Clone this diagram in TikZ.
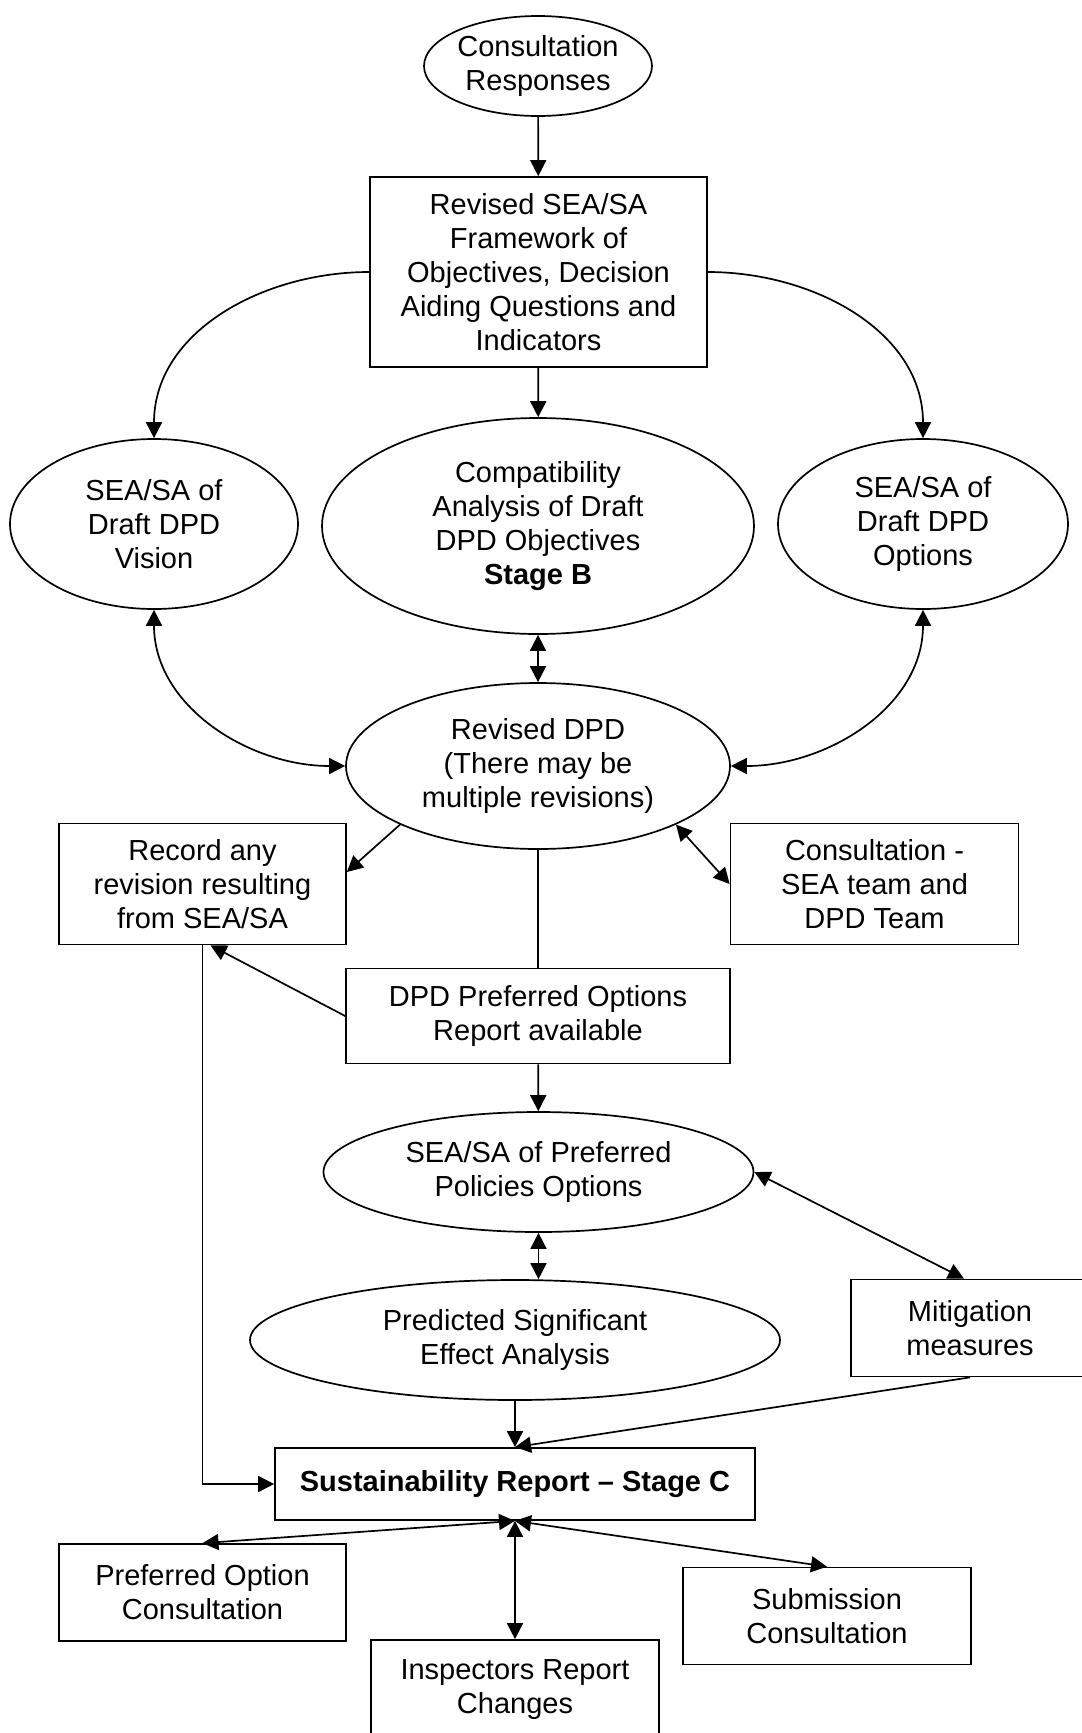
\documentclass[tikz,border=0pt]{standalone}
\usepackage{fontspec}
\setmainfont{Liberation Sans}
\usetikzlibrary{shapes.geometric,arrows.meta,calc}
\tikzset{
  lbl/.style={font=\fontsize{29pt}{34pt}\selectfont, align=center, inner sep=0pt},
  box/.style={lbl, draw, rectangle, line width=1.7pt},
  oval/.style={lbl, draw, ellipse, line width=1.7pt},
  arr/.style={line width=1.7pt, -{Triangle[length=16pt,width=16pt]}},
  darr/.style={line width=1.7pt, {Triangle[length=16pt,width=16pt]}-{Triangle[length=16pt,width=16pt]}},
  plain/.style={line width=1.7pt},
}
\begin{document}
\begin{tikzpicture}[x=1pt,y=-1pt]
\useasboundingbox[fill=white] (0,0) rectangle (1082,1733);

\node[oval, minimum width=228pt, minimum height=100pt] (cr) at (538,66) {Consultation\\Responses};
\node[box, minimum width=337pt, minimum height=190pt] (fw) at (538.5,272) {Revised SEA/SA\\Framework of\\Objectives, Decision\\Aiding Questions and\\Indicators};
\node[oval, minimum width=288pt, minimum height=170pt] (vis) at (154,524) {SEA/SA of\\Draft DPD\\Vision};
\node[oval, minimum width=432pt, minimum height=216pt] (comp) at (538,526) {Compatibility\\Analysis of Draft\\DPD Objectives\\\textbf{Stage B}};
\node[oval, minimum width=290pt, minimum height=170pt] (opt) at (923,524) {SEA/SA of\\Draft DPD\\Options};
\node[oval, minimum width=384pt, minimum height=166pt] (dpd) at (538,766) {Revised DPD\\(There may be\\multiple revisions)};
\node[box, minimum width=287pt, minimum height=121pt] (rec) at (202.5,884) {Record any\\revision resulting\\from SEA/SA};
\node[box, minimum width=288pt, minimum height=121pt] (con) at (874.5,884) {Consultation -\\SEA team and\\DPD Team};
\node[box, minimum width=384pt, minimum height=95pt] (pref) at (538,1016) {DPD Preferred Options\\Report available};
\node[oval, minimum width=430pt, minimum height=120pt] (pp) at (538.5,1172) {SEA/SA of Preferred\\Policies Options};
\node[oval, minimum width=530pt, minimum height=120pt] (pred) at (515,1340) {Predicted Significant\\Effect Analysis};
\node[box, minimum width=238pt, minimum height=97pt] (mit) at (970,1328) {Mitigation\\measures};
\node[box, minimum width=480pt, minimum height=72pt] (sust) at (515,1484) {\textbf{Sustainability Report -- Stage C}};
\node[box, minimum width=287pt, minimum height=97pt] (po) at (202.5,1592.5) {Preferred Option\\Consultation};
\node[box, minimum width=288pt, minimum height=100pt] (insp) at (515,1690) {Inspectors Report\\Changes};
\node[box, minimum width=288pt, minimum height=97pt] (sub) at (827,1616) {Submission\\Consultation};

\draw[arr] (cr) -- (fw);
\draw[arr] (fw.west) to[out=180,in=90] (vis.north);
\draw[arr] (fw.east) to[out=0,in=90] (opt.north);
\draw[arr] (fw) -- (comp);
\draw[darr] (comp) -- (dpd);
\draw[darr] (vis.south) to[out=-90,in=180] (dpd.west);
\draw[darr] (opt.south) to[out=-90,in=0] (dpd.east);
\draw[arr] (dpd.203) -- ($(rec.east)+(0,-12)$);
\draw[darr] (dpd.337) -- (con.west);
\draw[plain] (dpd.south) -- (pref.north);
\draw[arr] (pref.west) -- ($(rec.south)+(8,0)$);
\draw[arr] (rec.south) |- (sust.west);
\draw[arr] (pref) -- (pp);
\draw[darr] (pp.south) -- (pp.south |- pred.north);
\draw[darr] (pp.east) -- ($(mit.north)+(-6,0)$);
\draw[arr] (mit.south) -- (sust.north);
\draw[arr] (pred.south) -- (sust.north);
\draw[darr] (sust.south) -- (po.north);
\draw[darr] (sust.south) -- (insp.north);
\draw[darr] (sust.south) -- (sub.north);
\end{tikzpicture}
\end{document}
